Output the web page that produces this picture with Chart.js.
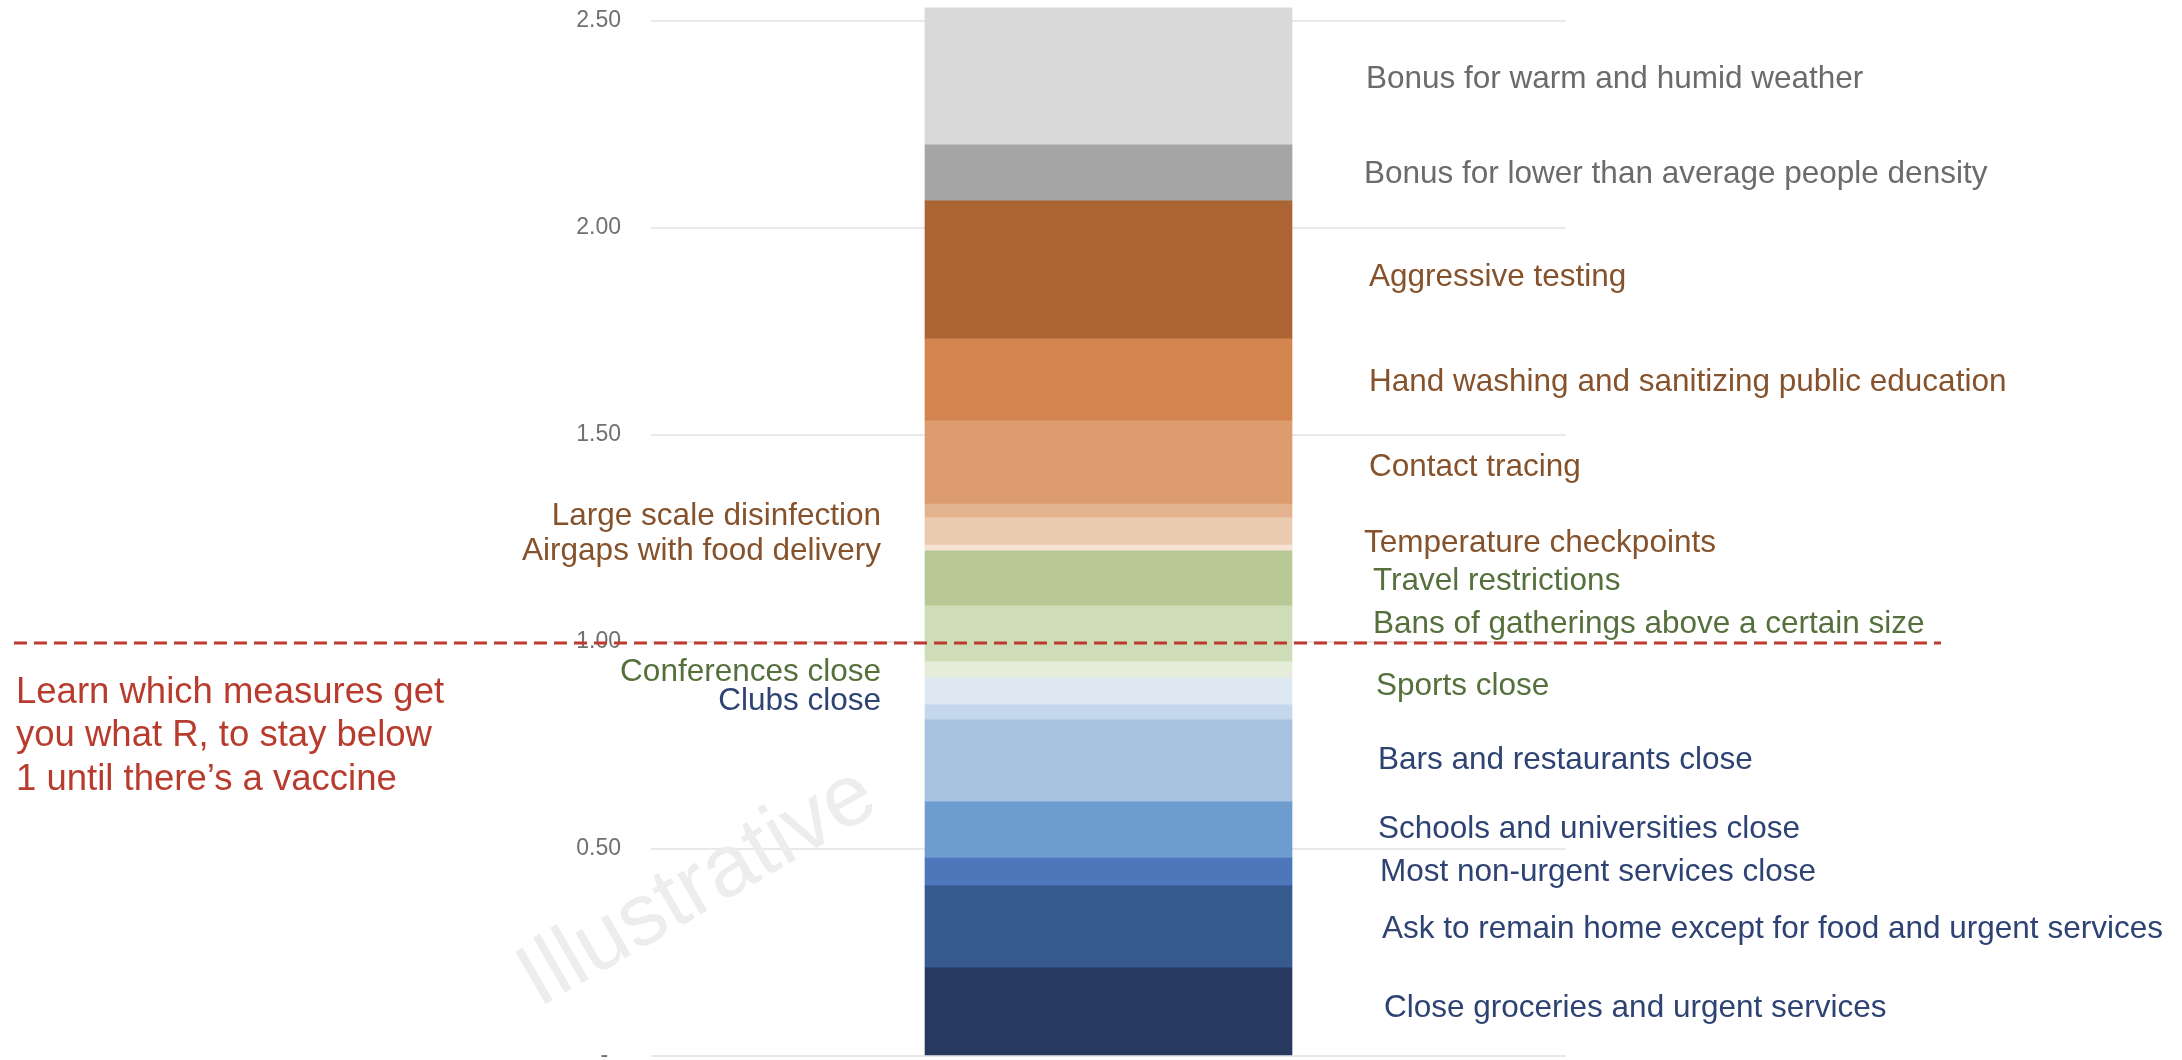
<!DOCTYPE html>
<html>
<head>
<meta charset="utf-8">
<title>Which measures get R below 1</title>
<script src="https://cdn.jsdelivr.net/npm/chart.js@4.4.1/dist/chart.umd.min.js"></script>
<style>
  html, body { margin: 0; padding: 0; background: #fff; }
  #chart { display: block; }
</style>
</head>
<body>
<canvas id="chart" width="2182" height="1060"></canvas>
<script>
// measures, stacked from the bottom of the bar upwards
const measures = [
  'Close groceries and urgent services',
  'Ask to remain home except for food and urgent services',
  'Most non-urgent services close',
  'Schools and universities close',
  'Bars and restaurants close',
  'Clubs close',
  'Sports close',
  'Conferences close',
  'Bans of gatherings above a certain size',
  'Travel restrictions',
  'Airgaps with food delivery',
  'Temperature checkpoints',
  'Large scale disinfection',
  'Contact tracing',
  'Hand washing and sanitizing public education',
  'Aggressive testing',
  'Bonus for lower than average people density',
  'Bonus for warm and humid weather'
];

// share of R taken away by each measure
const rShare = [0.213, 0.198, 0.067, 0.136, 0.198, 0.036, 0.065, 0.039, 0.135,
                0.133, 0.014, 0.066, 0.033, 0.201, 0.198, 0.333, 0.135, 0.331];

// kind of measure, used for the label colour
const kinds = ['closure', 'closure', 'closure', 'closure', 'closure', 'closure',
               'distancing', 'distancing', 'distancing', 'distancing',
               'hygiene', 'hygiene', 'hygiene', 'hygiene', 'hygiene', 'hygiene',
               'bonus', 'bonus'];

// labels that sit on the left of the bar
const leftSide = ['Clubs close', 'Conferences close', 'Airgaps with food delivery', 'Large scale disinfection'];

const yTicks = [0, 0.5, 1, 1.5, 2, 2.5];
const yMax = 2.55;
const threshold = 1;

const note = ['Learn which measures get', 'you what R, to stay below', '1 until there\u2019s a vaccine'];

// ---- styling ----
const FONT = '"Liberation Sans", Arial, Helvetica, sans-serif';
const segmentColours = [
  '#27395f', '#375a8e', '#4e76bb', '#6d9ccf', '#a8c3e1', '#c4d7ec', '#dee8f3',
  '#e5ecda', '#cedcb7', '#b8c997', '#f5e2d4', '#ebcbb0', '#e3b28e', '#dc9c6d',
  '#d4854f', '#ac6433', '#a5a5a5', '#d9d9d9'
];
const kindColours = { closure: '#2e4373', distancing: '#55703c', hygiene: '#85522b', bonus: '#6b6b6b' };

// label placement tweaks: [gap from bar edge, shift from segment centre]
const labelNudge = {
  'Close groceries and urgent services': [92, -3],
  'Ask to remain home except for food and urgent services': [90, 3],
  'Most non-urgent services close': [88, 0],
  'Schools and universities close': [86, -1],
  'Bars and restaurants close': [86, 0],
  'Clubs close': [44, -11],
  'Sports close': [84, -5],
  'Conferences close': [44, 2],
  'Bans of gatherings above a certain size': [81, -9],
  'Travel restrictions': [81, 3],
  'Airgaps with food delivery': [44, 3],
  'Temperature checkpoints': [72, 12],
  'Large scale disinfection': [44, 5],
  'Contact tracing': [77, 5],
  'Hand washing and sanitizing public education': [77, 3],
  'Aggressive testing': [77, 8],
  'Bonus for lower than average people density': [72, 1],
  'Bonus for warm and humid weather': [74, 3]
};

const datasets = measures.map((name, i) => ({
  label: name,
  data: [rShare[i]],
  backgroundColor: segmentColours[i],
  borderWidth: 0,
  barThickness: 367,
  stack: 'r'
}));

// faint watermark behind the bar
const watermark = {
  id: 'watermark',
  beforeDatasetsDraw(chart) {
    const ctx = chart.ctx;
    ctx.save();
    ctx.translate(698, 888);
    ctx.rotate(-30 * Math.PI / 180);
    ctx.font = '88px ' + FONT;
    ctx.fillStyle = '#ededed';
    ctx.textAlign = 'center';
    ctx.textBaseline = 'middle';
    ctx.fillText('Illustrative', 0, 0);
    ctx.restore();
  }
};

// measure names next to their segments
const segmentLabels = {
  id: 'segmentLabels',
  afterDatasetsDraw(chart) {
    const ctx = chart.ctx;
    ctx.save();
    ctx.font = '31.5px ' + FONT;
    ctx.textBaseline = 'middle';
    chart.data.datasets.forEach((ds, i) => {
      const bar = chart.getDatasetMeta(i).data[0];
      const half = bar.width / 2;
      const mid = (bar.y + bar.base) / 2;
      const [gap, shift] = labelNudge[ds.label] || [60, 0];
      ctx.fillStyle = kindColours[kinds[i]];
      if (leftSide.includes(ds.label)) {
        ctx.textAlign = 'right';
        ctx.fillText(ds.label, bar.x - half - gap, mid + shift);
      } else {
        ctx.textAlign = 'left';
        ctx.fillText(ds.label, bar.x + half + gap, mid + shift);
      }
    });
    ctx.restore();
  }
};

// R = 1 threshold line and the note beside it
const thresholdLine = {
  id: 'thresholdLine',
  afterDraw(chart) {
    const ctx = chart.ctx;
    const y = chart.scales.y.getPixelForValue(threshold);
    ctx.save();
    ctx.strokeStyle = '#bc3b2e';
    ctx.lineWidth = 3;
    ctx.setLineDash([13, 7]);
    ctx.beginPath();
    ctx.moveTo(14, y + 1);
    ctx.lineTo(1941, y + 1);
    ctx.stroke();

    ctx.font = '36.5px ' + FONT;
    ctx.fillStyle = '#b83c2e';
    ctx.textAlign = 'left';
    ctx.textBaseline = 'middle';
    note.forEach((line, k) => ctx.fillText(line, 16, y + 51 + k * 43.5));
    ctx.restore();
  }
};

new Chart(document.getElementById('chart'), {
  type: 'bar',
  data: { labels: [''], datasets },
  plugins: [watermark, segmentLabels, thresholdLine],
  options: {
    responsive: false,
    animation: false,
    devicePixelRatio: 1,
    layout: { padding: { left: 531, right: 616, top: 0, bottom: 4 } },
    plugins: { legend: { display: false }, tooltip: { enabled: false } },
    scales: {
      x: { stacked: true, display: false },
      y: {
        stacked: true,
        min: 0,
        max: yMax,
        border: { display: false },
        grid: { color: '#e9e9e9', lineWidth: 2, drawTicks: false },
        afterBuildTicks(scale) {
          scale.ticks = yTicks.map(v => ({ value: v }));
        },
        afterFit(scale) {
          scale.width = 120;
          scale.paddingTop = 0;
          scale.paddingBottom = 0;
        },
        ticks: {
          padding: 30,
          color: '#707070',
          font: { family: FONT, size: 23 },
          callback: v => (v === 0 ? '-  ' : v.toFixed(2))
        }
      }
    }
  }
});
</script>
</body>
</html>
